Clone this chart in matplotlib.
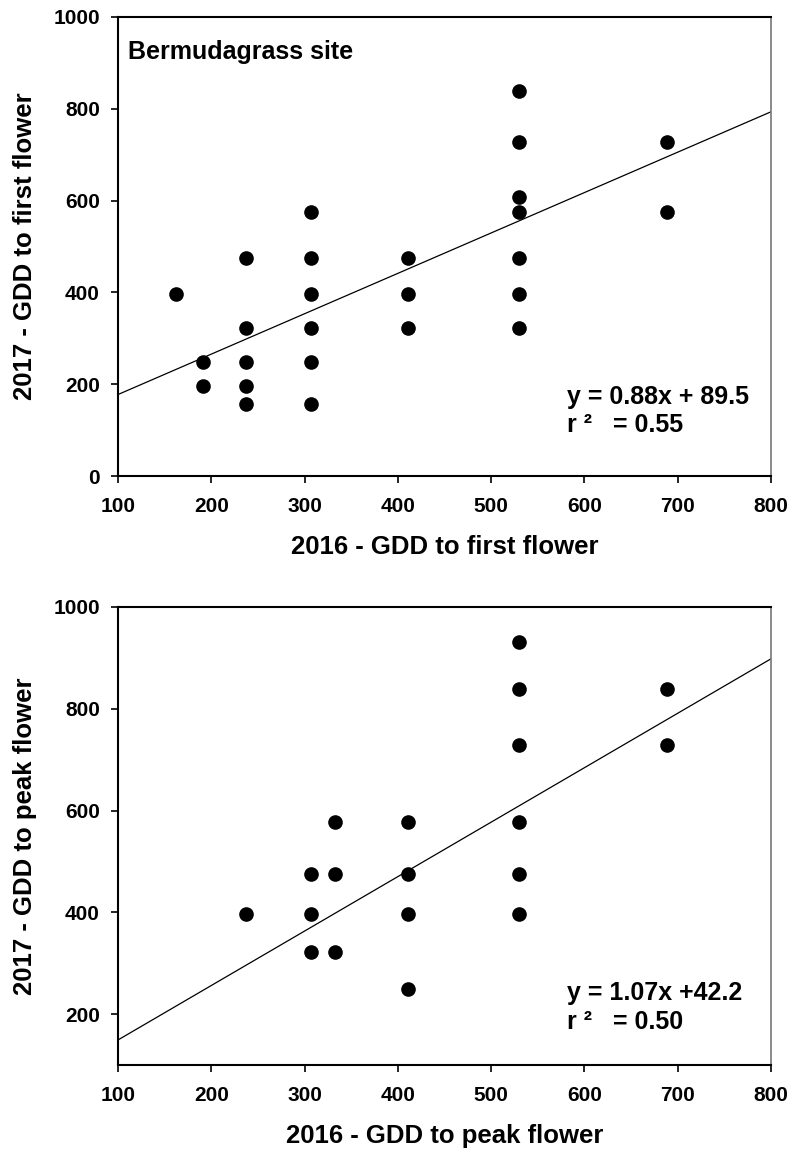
import numpy as np
import matplotlib
matplotlib.use('Agg')
import matplotlib.pyplot as plt

plt.rcParams['font.family'] = ['Liberation Sans', 'DejaVu Sans']
plt.rcParams['font.weight'] = 'bold'

# first flower (top panel)
first_2016 = [162, 191, 191, 237, 237, 237, 237, 237,
              307, 307, 307, 307, 307, 307,
              411, 411, 411,
              530, 530, 530, 530, 530, 530, 530,
              689, 689]
first_2017 = [397, 248, 195, 475, 323, 248, 195, 157,
              575, 475, 397, 323, 248, 157,
              475, 397, 323,
              838, 728, 607, 575, 475, 397, 323,
              728, 575]
first_fit = (0.88, 89.5)
first_eq = ['y = 0.88x + 89.5', 'r \u00b2   = 0.55']

# peak flower (bottom panel)
peak_2016 = [237, 307, 307, 307, 333, 333, 333,
             411, 411, 411, 411,
             530, 530, 530, 530, 530, 530,
             689, 689]
peak_2017 = [397, 475, 397, 323, 577, 475, 323,
             577, 475, 397, 249,
             932, 839, 729, 577, 475, 397,
             839, 729]
peak_fit = (1.07, 42.2)
peak_eq = ['y = 1.07x +42.2', 'r \u00b2   = 0.50']

W, H = 793, 1155
fig = plt.figure(figsize=(W / 100, H / 100), dpi=100)


def draw_panel(ax, x, y, fit, eq, ylim, yticks, xlabel, ylabel, eq_y):
    ax.plot(x, y, 'o', color='black', markersize=9.5, zorder=3)
    xl = np.array([100, 800])
    ax.plot(xl, fit[0] * xl + fit[1], color='black', linewidth=0.9)
    ax.set_xlim(100, 800)
    ax.set_ylim(*ylim)
    ax.set_xticks(range(100, 801, 100))
    ax.set_yticks(yticks)
    ax.tick_params(direction='out', length=5, width=1.2, labelsize=15)
    ax.tick_params(axis='x', pad=10)
    ax.tick_params(axis='y', pad=8)
    for lab in ax.get_xticklabels() + ax.get_yticklabels():
        lab.set_fontweight('bold')
    for side in ['left', 'bottom', 'top']:
        ax.spines[side].set_linewidth(1.5)
    ax.spines['right'].set_linewidth(1.2)
    ax.spines['right'].set_color('#777777')
    ax.set_xlabel(xlabel, fontsize=18.5, fontweight='bold', labelpad=14)
    ax.set_ylabel(ylabel, fontsize=18.5, fontweight='bold', labelpad=12)
    ax.text(0.688, eq_y[0], eq[0], transform=ax.transAxes, fontsize=18,
            fontweight='bold', va='center', ha='left')
    ax.text(0.688, eq_y[1], eq[1], transform=ax.transAxes, fontsize=18,
            fontweight='bold', va='center', ha='left')


ax1 = fig.add_axes([118 / W, 1 - 476 / H, 653 / W, 459 / H])
draw_panel(ax1, first_2016, first_2017, first_fit, first_eq, (0, 1000),
           range(0, 1001, 200), '2016 - GDD to first flower',
           '2017 - GDD to first flower', (0.172, 0.111))
ax1.text(0.015, 0.924, 'Bermudagrass site', transform=ax1.transAxes,
         fontsize=18, fontweight='bold', va='center', ha='left')

ax2 = fig.add_axes([118 / W, 1 - 1065 / H, 653 / W, 458 / H])
draw_panel(ax2, peak_2016, peak_2017, peak_fit, peak_eq, (100, 1000),
           range(200, 1001, 200), '2016 - GDD to peak flower',
           '2017 - GDD to peak flower', (0.158, 0.093))

fig.savefig('out.png', dpi=100)
